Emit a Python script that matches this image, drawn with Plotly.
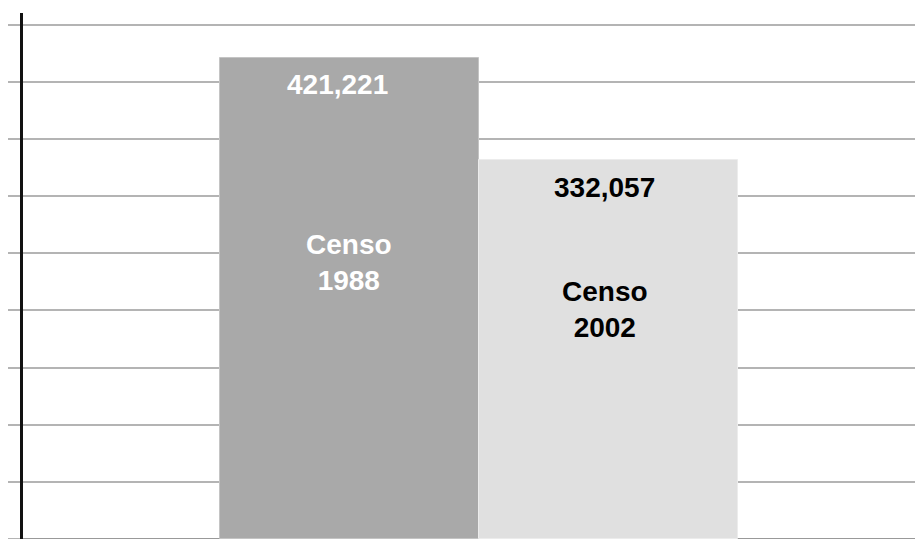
import plotly.graph_objects as go

categories = ["Censo 1988", "Censo 2002"]
label_lines = ["Censo<br>1988", "Censo<br>2002"]
values = [421221, 332057]
value_text = ["421,221", "332,057"]

bar_colors = ["#a9a9a9", "#e0e0e0"]
text_colors = ["#ffffff", "#000000"]
outline_colors = ["#c4c4c4", "#ececec"]

x_pos = list(range(len(values)))

fig = go.Figure()
fig.add_trace(go.Bar(
    x=x_pos, y=values, width=1.0,
    marker=dict(color=bar_colors, line=dict(color=outline_colors, width=1)),
    showlegend=False, hoverinfo="skip",
))

font_family = "Liberation Sans, Arial, sans-serif"
value_xshift = [-12, -4]
label_xshift = [-1, -4]
value_yshift = [-27, -28]
label_yshift = [-205, -150]

for i, v in enumerate(values):
    fig.add_annotation(
        x=x_pos[i], y=v, text="<b>" + value_text[i] + "</b>",
        showarrow=False, xshift=value_xshift[i], yshift=value_yshift[i],
        yanchor="middle",
        font=dict(family=font_family, size=28, color=text_colors[i]),
    )
    fig.add_annotation(
        x=x_pos[i], y=v, text="<b>" + label_lines[i] + "</b>",
        showarrow=False, xshift=label_xshift[i], yshift=label_yshift[i],
        yanchor="middle", align="center",
        font=dict(family=font_family, size=28, color=text_colors[i]),
    )

# page body has an 8px default margin; compensate so the plot lands where the reference has it
fig.update_layout(
    width=915, height=531,
    margin=dict(l=15, r=0, t=5, b=0),
    paper_bgcolor="white", plot_bgcolor="white",
    bargap=0,
    xaxis=dict(range=[-1.2606, 2.214], showgrid=False, zeroline=False,
               showticklabels=False, showline=False, ticks="", automargin=False),
    yaxis=dict(range=[0, 460300], dtick=50000, showgrid=True,
               gridcolor="#b4b4b4", gridwidth=1.5,
               zeroline=True, zerolinecolor="#999999", zerolinewidth=2,
               showticklabels=False, automargin=False,
               showline=True, linecolor="#111111", linewidth=3,
               ticks="outside", ticklen=12, tickcolor="#b4b4b4", tickwidth=1.5),
)

fig.write_html("out.html")
